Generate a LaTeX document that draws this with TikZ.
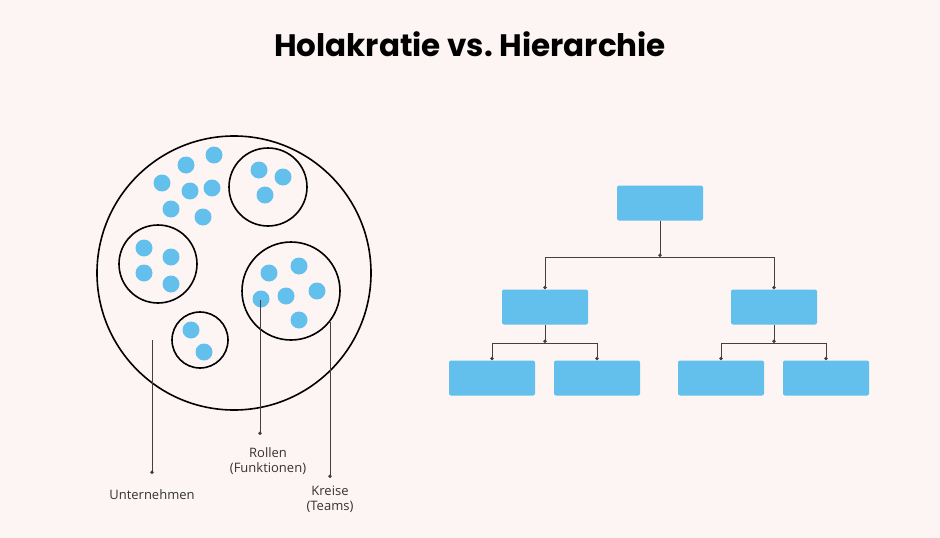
\documentclass[tikz,border=0pt]{standalone}
\usepackage{fontspec}
\setmainfont{Open Sans}
\newfontfamily\titlefont{Poppins}
\usetikzlibrary{arrows.meta}
\definecolor{bgpink}{HTML}{FDF5F3}
\definecolor{roleblue}{HTML}{63BFEC}

\begin{document}
\begin{tikzpicture}[x=1pt,y=-1pt,
  role/.style={fill=roleblue,draw=none},
  team/.style={draw,line width=1.6pt},
  box/.style={fill=roleblue,rounded corners=2pt,minimum width=86pt,minimum height=35pt,inner sep=0pt},
  link/.style={line width=0.9pt,draw=black!75,-{Circle[length=3.5pt]}},
  lab/.style={font=\fontsize{13}{15}\selectfont,align=center,text=black!80}]
\fill[bgpink] (0,0) rectangle (940,538);
\node[font=\titlefont\bfseries\fontsize{31}{36}\selectfont] (title) at (470,44) {Holakratie vs.\ Hierarchie};
% holacracy
\draw[team] (234,273) circle (137);
\draw[team] (268,187) circle (39);
\draw[team] (158,264) circle (39);
\draw[team] (200,340) circle (28);
\draw[team] (291,291) circle (49);
\foreach \p in {(186,165),(214,155),(162,183),(190,191),(212,188),(171,209),(203,217),
  (259,170),(283,177),(265,195),(144,248),(171,257),(144,273),(171,284),
  (191,330),(204,352),(269,273),(299,266),(261,299),(286,296),(317,291),(299,320)}
  \fill[role] \p circle (8.5);
\coordinate (u0) at (152,340);
\coordinate (r0) at (260,300);
\coordinate (k0) at (330,322);
\node[lab] (unt) at (152,495) {Unternehmen};
\node[lab] (rol) at (268,461) {Rollen\\(Funktionen)};
\node[lab] (kre) at (330,499) {Kreise\\(Teams)};
\draw[link] (u0) -- (152,474);
\draw[link] (r0) -- (260,435);
\draw[link] (k0) -- (330,478);
% hierarchy
\node[box] (top) at (660,203) {};
\node[box] (ml) at (545,307) {};
\node[box] (mr) at (774,307) {};
\node[box] (b1) at (492,378) {};
\node[box] (b2) at (597,378) {};
\node[box] (b3) at (721,378) {};
\node[box] (b4) at (826,378) {};
\coordinate (j0) at (660,257);
\coordinate (j1) at (545,343);
\coordinate (j2) at (774,343);
\draw[link] (top) -- (j0);
\draw[link] (j0) -| (ml.north);
\draw[link] (j0) -| (mr.north);
\draw[link] (ml) -- (j1);
\draw[link] (j1) -| (b1.north);
\draw[link] (j1) -| (b2.north);
\draw[link] (mr) -- (j2);
\draw[link] (j2) -| (b3.north);
\draw[link] (j2) -| (b4.north);
\end{tikzpicture}
\end{document}
